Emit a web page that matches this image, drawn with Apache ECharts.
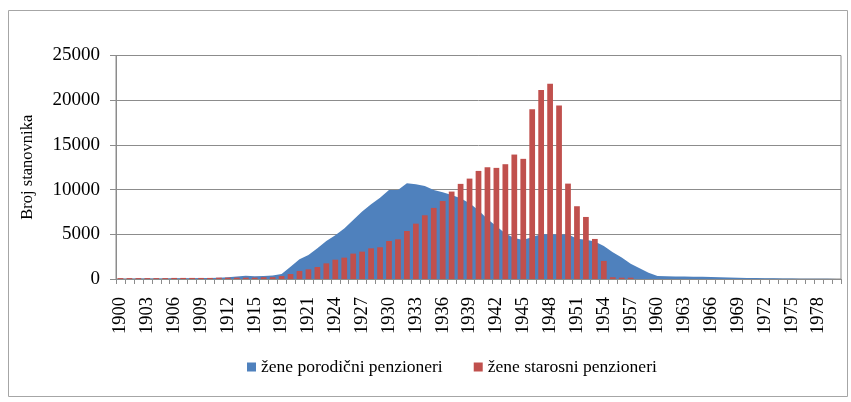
<!DOCTYPE html>
<html>
<head>
<meta charset="utf-8">
<script src="https://cdn.jsdelivr.net/npm/echarts@6/dist/echarts.min.js"></script>
<style>html,body{margin:0;padding:0;background:#fff}#c{width:851px;height:402px}</style>
</head>
<body>
<div id="c"></div>
<script>
var years = [];
for (var y = 1900; y <= 1980; y++) years.push(String(y));

var seriesNames = ['žene porodični penzioneri', 'žene starosni penzioneri'];
var yAxisTitle = 'Broj stanovnika';

// blue area: žene porodični penzioneri (1900..1980)
var porodicni = [
  30, 40, 50, 50, 60, 60, 70, 80, 90, 100,
  120, 150, 200, 280, 350, 300, 330, 400, 560, 1380,
  2200, 2690, 3430, 4250, 4890, 5640, 6600, 7540, 8360, 9100,
  9960, 9960, 10710, 10600, 10400, 9950, 9700, 9400, 9030, 8470,
  7700, 6700, 5900, 5100, 4600, 4350, 4700, 5000, 5000, 4950,
  5000, 4500, 4400, 4200, 3700, 3000, 2400, 1700, 1200, 700,
  330, 300, 290, 280, 260, 240, 220, 200, 170, 140,
  120, 100, 80, 70, 60, 50, 40, 30, 25, 20,
  15
];

// red bars: žene starosni penzioneri (1900..1980)
var starosni = [
  100, 100, 100, 100, 100, 100, 120, 120, 120, 120,
  120, 150, 150, 150, 150, 150, 200, 200, 330, 560,
  900, 1080, 1340, 1750, 2160, 2390, 2840, 3060, 3430, 3550,
  4250, 4440, 5370, 6190, 7130, 7950, 8720, 9780, 10640, 11230,
  12090, 12500, 12430, 12840, 13920, 13440, 19000, 21130, 21830, 19400,
  10670, 8140, 6940, 4480, 2020, 200, 150, 150, 0, 0,
  0, 0, 0, 0, 0, 0, 0, 0, 0, 0,
  0, 0, 0, 0, 0, 0, 0, 0, 0, 0,
  0
];

var FONT = 'Liberation Serif';
var chart = echarts.init(document.getElementById('c'), null, {renderer: 'canvas'});
chart.setOption({
  animation: false,
  backgroundColor: '#ffffff',
  graphic: [{
    type: 'rect', shape: {x: 8.5, y: 10.5, width: 839, height: 386},
    style: {fill: 'none', stroke: '#a6a6a6', lineWidth: 1}, silent: true, z: -1
  }],
  grid: {left: 116, right: 10, top: 55.5, bottom: 123, show: true, borderColor: '#8c8c8c', borderWidth: 1},
  legend: {
    left: 247, top: 358, padding: 0,
    itemWidth: 9, itemHeight: 9, itemGap: 31,
    icon: 'rect',
    textStyle: {fontFamily: FONT, fontSize: 17.5, color: '#000'},
    data: seriesNames
  },
  xAxis: {
    type: 'category', data: years, boundaryGap: true,
    axisLine: {show: true, lineStyle: {color: '#8c8c8c', width: 1}},
    axisTick: {show: true, interval: 0, length: 5, lineStyle: {color: '#8c8c8c'}},
    axisLabel: {interval: 2, rotate: 90, margin: 18, padding: [14, 0, 0, 0], fontFamily: FONT, fontSize: 18.5, color: '#000'},
    splitLine: {show: false}
  },
  yAxis: {
    type: 'value', min: 0, max: 25000, interval: 5000,
    name: yAxisTitle, nameLocation: 'middle', nameGap: 80, nameRotate: 90,
    nameTextStyle: {fontFamily: FONT, fontSize: 16.5, color: '#000'},
    axisLine: {show: true, lineStyle: {color: '#8c8c8c', width: 1}},
    axisTick: {show: true, length: 6, lineStyle: {color: '#8c8c8c'}},
    axisLabel: {margin: 16, fontFamily: FONT, fontSize: 19, color: '#000',
      formatter: function (v) { return String(v); }},
    splitLine: {show: true, lineStyle: {color: '#8c8c8c', width: 1}}
  },
  series: [
    {
      name: seriesNames[0], type: 'line', data: porodicni,
      symbol: 'none', showSymbol: false,
      lineStyle: {width: 0, color: '#4F81BD'},
      itemStyle: {color: '#4F81BD'},
      areaStyle: {color: '#4F81BD', opacity: 1},
      z: 2
    },
    {
      name: seriesNames[1], type: 'bar', data: starosni,
      barWidth: '64%',
      itemStyle: {color: '#C0504D'},
      z: 3
    }
  ]
});
</script>
</body>
</html>
